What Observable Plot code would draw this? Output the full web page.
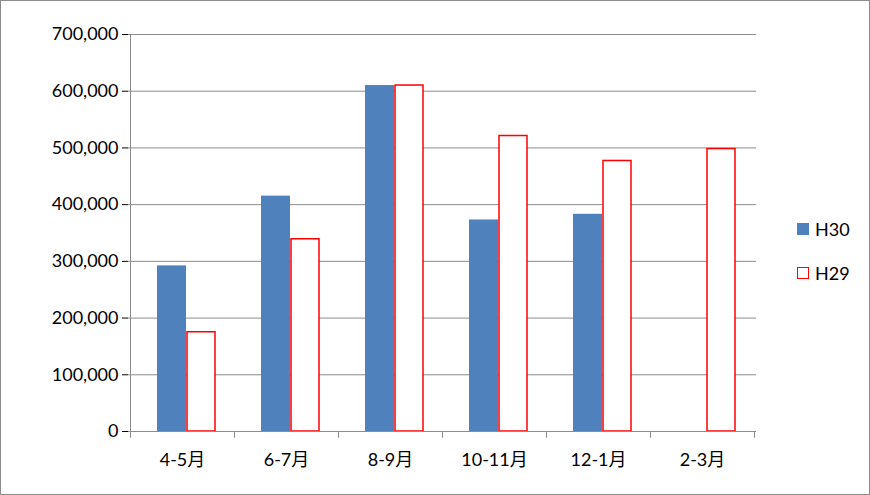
<!DOCTYPE html>
<html><head><meta charset="utf-8">
<script src="https://cdn.jsdelivr.net/npm/d3@7"></script>
<script src="https://cdn.jsdelivr.net/npm/@observablehq/plot@0.6"></script>
<style>
body{margin:0;background:#fff;font-family:Lato,"Noto Sans CJK JP",sans-serif;}
#wrap{position:relative;width:868px;height:493px;border:1px solid #8c8c8c;}
#wrap svg{position:absolute;left:0;top:0;}
.lg{position:absolute;left:796px;font-size:18px;display:flex;align-items:center;gap:6px;color:#000;}
.sw{width:12px;height:12px;box-sizing:border-box;}
</style></head><body>
<div id="wrap"></div>
<script>
const categories=["4-5月","6-7月","8-9月","10-11月","12-1月","2-3月"];
const h30=[292000,415000,610000,373000,383000,null];
const h29=[175000,339000,610000,521000,477000,498000];
const yTicks=[0,100000,200000,300000,400000,500000,600000,700000];
const d30=categories.map((c,i)=>({c,v:h30[i]})).filter(d=>d.v!=null);
const d29=categories.map((c,i)=>({c,v:h29[i]}));
const cf={fontFamily:'Lato,"Noto Sans CJK JP",sans-serif'};
const chart=Plot.plot({
  width:868,height:493,marginLeft:127,marginRight:113,marginTop:33,marginBottom:63,
  style:{fontSize:"18px",...cf,background:"transparent"},
  x:{domain:categories,padding:0,label:null,tickSize:0,tickPadding:22},
  y:{domain:[0,700000],ticks:yTicks,tickFormat:d3.format(","),label:null,tickSize:6,tickPadding:4},
  marks:[
    Plot.ruleY(yTicks.slice(1),{stroke:"#8c8c8c",strokeOpacity:1}),
    Plot.barY(d30,{x:"c",y:"v",fill:"#4f81bd",insetLeft:27,insetRight:48}),
    Plot.barY(d29,{x:"c",y:"v",fill:"#fff",stroke:"#ff0000",strokeWidth:1.5,insetLeft:57,insetRight:19}),
    Plot.ruleX(categories,{x:d=>d,dx:-52,y1:0,y2:-12000,stroke:"#8c8c8c"}),
    Plot.ruleX([categories[categories.length-1]],{x:d=>d,dx:52,y1:0,y2:-12000,stroke:"#8c8c8c"}),
    Plot.ruleY([0],{stroke:"#8c8c8c"}),
    Plot.ruleX([categories[0]],{x:d=>d,dx:-52,y1:0,y2:700000,stroke:"#8c8c8c"})
  ]
});
const w=document.getElementById("wrap");
w.appendChild(chart);
w.insertAdjacentHTML("beforeend",
 '<div class="lg" style="top:217px"><div class="sw" style="background:#4f81bd"></div>H30</div>'+
 '<div class="lg" style="top:261px"><div class="sw" style="border:1.5px solid #ff0000;background:#fff"></div>H29</div>');
</script></body></html>
